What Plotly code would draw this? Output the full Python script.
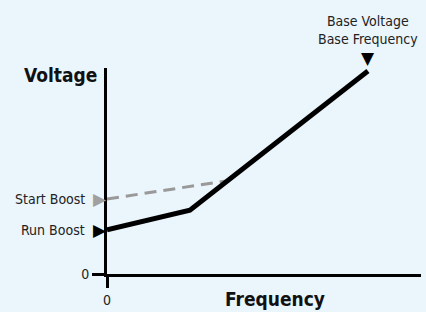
import plotly.graph_objects as go

# Data
run_freq = [0, 26.4, 83.1]
run_volt = [21.4, 31.0, 98.5]
start_freq = [0, 38.5]
start_volt = [36.4, 45.3]
base_freq = 83.1
base_volt = 104.9
boost_labels = ["Start Boost", "Run Boost"]
boost_values = [36.4, 21.4]
boost_colors = ["#A0A0A0", "#000000"]

X_RANGE = [0, 100]
Y_RANGE = [0, 100]

BG = "#EAF5FC"
FONT = "Liberation Sans Narrow, DejaVu Sans Condensed, Arial Narrow, sans-serif"
SYM = "DejaVu Sans, sans-serif"

fig = go.Figure()

fig.add_trace(go.Scatter(x=start_freq, y=start_volt, mode="lines",
                         line=dict(color="#999999", width=3, dash="12px,7px"),
                         hoverinfo="skip", cliponaxis=False))
fig.add_trace(go.Scatter(x=run_freq, y=run_volt, mode="lines",
                         line=dict(color="#000000", width=5),
                         hoverinfo="skip", cliponaxis=False))

annotations = []
for lab, v, c in zip(boost_labels, boost_values, boost_colors):
    annotations.append(dict(x=-0.064, y=v, xref="paper", yref="y", text=lab,
                            showarrow=False, xanchor="right", yanchor="middle",
                            font=dict(family=FONT, size=14, color="#222222")))
    annotations.append(dict(x=-0.05, y=v, xref="paper", yref="y", text="▶",
                            showarrow=False, xanchor="left", yanchor="middle",
                            font=dict(family=SYM, size=17, color=c)))
base_paper_y = (base_volt - Y_RANGE[0]) / (Y_RANGE[1] - Y_RANGE[0])
annotations.append(dict(x=base_freq, y=base_paper_y, xref="x", yref="paper", text="▼",
                        showarrow=False, xanchor="center", yanchor="middle",
                        font=dict(family=SYM, size=17, color="#000000")))
annotations.append(dict(x=base_freq, y=base_paper_y, xref="x", yref="paper",
                        text="Base Voltage<br>Base Frequency", showarrow=False,
                        xanchor="center", yanchor="bottom", yshift=9,
                        font=dict(family=FONT, size=14, color="#222222")))
annotations.append(dict(x=-0.025, y=0.966, xref="paper", yref="paper", text="<b>Voltage</b>",
                        showarrow=False, xanchor="right", yanchor="middle",
                        font=dict(family=FONT, size=19, color="#111111")))
annotations.append(dict(x=0.535, y=-0.121, xref="paper", yref="paper", text="<b>Frequency</b>",
                        showarrow=False, xanchor="center", yanchor="middle",
                        font=dict(family=FONT, size=19, color="#111111")))

fig.update_layout(
    width=426, height=312,
    margin=dict(l=107, r=5, t=68, b=38),
    paper_bgcolor=BG, plot_bgcolor=BG,
    showlegend=False,
    annotations=annotations,
    xaxis=dict(range=X_RANGE, showgrid=False, zeroline=False, showline=True,
               linecolor="#000000", linewidth=3, tickvals=[0], ticktext=["0"],
               ticks="outside", ticklen=11, tickwidth=3, tickcolor="#000000",
               tickfont=dict(family=FONT, size=14, color="#222222"), fixedrange=True),
    yaxis=dict(range=Y_RANGE, showgrid=False, zeroline=False, showline=True,
               linecolor="#000000", linewidth=3, tickvals=[0], ticktext=["0"],
               ticks="outside", ticklen=12, tickwidth=3, tickcolor="#000000",
               tickfont=dict(family=FONT, size=14, color="#222222"), fixedrange=True),
)

fig.write_html("out.html", config={"displayModeBar": False},
               post_script="document.body.style.margin='0';document.body.style.background='" + BG + "';")
